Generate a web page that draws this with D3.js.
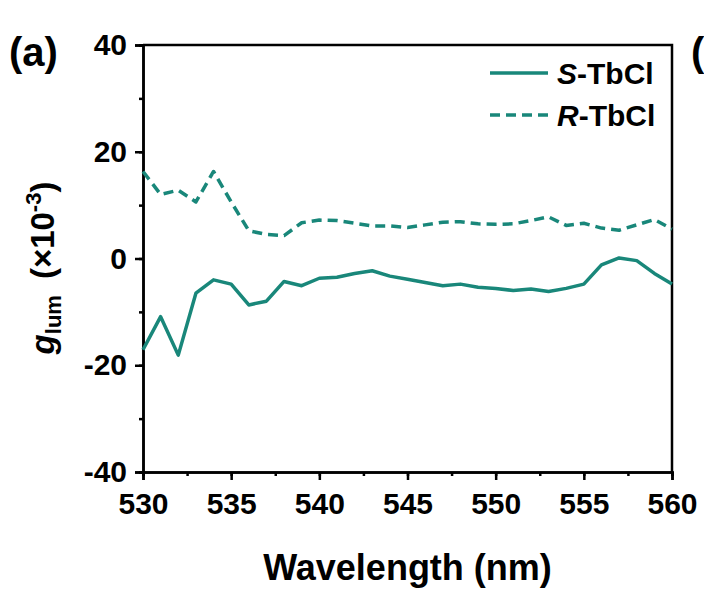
<!DOCTYPE html>
<html>
<head>
<meta charset="utf-8">
<script src="https://cdn.jsdelivr.net/npm/d3@7"></script>
<style>
  body { margin: 0; background: #fff; }
  text { font-family: "Liberation Sans", Arial, sans-serif; font-weight: bold; }
</style>
</head>
<body>
<div id="chart"></div>
<script>
// 数据
const wavelength = [530, 531, 532, 533, 534, 535, 536, 537, 538, 539, 540, 541, 542, 543, 544, 545,
  546, 547, 548, 549, 550, 551, 552, 553, 554, 555, 556, 557, 558, 559, 560];
const sTbCl = [-17.1, -10.9, -18.1, -6.5, -4.0, -4.8, -8.7, -8.0, -4.3, -5.1, -3.7, -3.5, -2.8, -2.3, -3.3, -3.9,
  -4.5, -5.1, -4.8, -5.4, -5.6, -6.0, -5.7, -6.2, -5.6, -4.8, -1.2, 0.1, -0.4, -2.8, -4.8];
const rTbCl = [16.3, 12.0, 12.8, 10.6, 16.3, 10.6, 5.2, 4.5, 4.3, 6.7, 7.2, 7.1, 6.6, 6.1, 6.1, 5.8,
  6.3, 6.8, 6.9, 6.5, 6.4, 6.5, 7.1, 7.8, 6.2, 6.6, 5.7, 5.3, 6.3, 7.3, 5.5];
const xTicks = [530, 535, 540, 545, 550, 555, 560];
const yTicks = [-40, -20, 0, 20, 40];
const seriesNames = ["S", "R"];

const width = 704, height = 597;
const margin = { left: 143, right: 32, top: 45, bottom: 125 };
const color = "#19877a";

const svg = d3.select("#chart").append("svg")
  .attr("width", width).attr("height", height);

const x = d3.scaleLinear().domain([530, 560]).range([margin.left, width - margin.right]);
const y = d3.scaleLinear().domain([-40, 40]).range([height - margin.bottom, margin.top]);

// 坐标轴
const styleAxis = (g) => {
  g.select(".domain").attr("stroke", "#000").attr("stroke-width", 2.5);
  g.selectAll(".tick line").attr("stroke", "#000").attr("stroke-width", 2.5);
  g.selectAll(".tick text").attr("fill", "#000").style("font-size", "30px");
};
const fmt = (d) => String(d); // 用普通连字符作负号

svg.append("g")
  .attr("transform", `translate(0,${y(-40)})`)
  .call(d3.axisBottom(x).tickValues(d3.range(530, 560.1, 2.5)).tickSize(4).tickFormat(""))
  .call(styleAxis);
svg.append("g")
  .attr("transform", `translate(0,${y(-40)})`)
  .call(d3.axisBottom(x).tickValues(xTicks).tickSize(8).tickPadding(13).tickFormat(fmt))
  .call(styleAxis);

svg.append("g")
  .attr("transform", `translate(${x(530)},0)`)
  .call(d3.axisLeft(y).tickValues(d3.range(-40, 40.1, 10)).tickSize(4).tickFormat(""))
  .call(styleAxis);
svg.append("g")
  .attr("transform", `translate(${x(530)},0)`)
  .call(d3.axisLeft(y).tickValues(yTicks).tickSize(8).tickPadding(8).tickFormat(fmt))
  .call(styleAxis);

// 上、右边框
svg.append("path")
  .attr("d", `M${x(530)},${y(40)}H${x(560)}V${y(-40)}`)
  .attr("fill", "none").attr("stroke", "#000").attr("stroke-width", 2.5);

// 曲线
const line = d3.line().x((d) => x(d[0])).y((d) => y(d[1]));
const series = [sTbCl, rTbCl];
series.forEach((vals, i) => {
  svg.append("path")
    .datum(wavelength.map((w, k) => [w, vals[k]]))
    .attr("d", line)
    .attr("fill", "none")
    .attr("stroke", color)
    .attr("stroke-width", 3.5)
    .attr("stroke-linejoin", "round")
    .attr("stroke-dasharray", i === 1 ? "10,6" : null);
});

// 图例
const legend = svg.append("g");
seriesNames.forEach((n, i) => {
  const ly = 73 + i * 42;
  legend.append("line")
    .attr("x1", 490).attr("x2", 548).attr("y1", ly).attr("y2", ly)
    .attr("stroke", color).attr("stroke-width", 3.5)
    .attr("stroke-dasharray", i === 1 ? "10,6" : null);
  const t = legend.append("text")
    .attr("x", 557).attr("y", ly).attr("dy", "0.36em")
    .style("font-size", "30px");
  t.append("tspan").style("font-style", "italic").text(n);
  t.append("tspan").text("-TbCl");
});

// 轴标题
svg.append("text")
  .attr("x", (x(530) + x(560)) / 2).attr("y", 580)
  .attr("text-anchor", "middle")
  .style("font-size", "36px")
  .text("Wavelength (nm)");

const yt = svg.append("text")
  .attr("transform", "translate(54,268) rotate(-90)")
  .attr("text-anchor", "middle")
  .style("font-size", "33px");
yt.append("tspan").style("font-style", "italic").text("g");
yt.append("tspan").attr("dy", 7).style("font-size", "22px").text("lum");
yt.append("tspan").attr("dy", -7).attr("dx", 16).text("(×10");
yt.append("tspan").attr("dy", -13).style("font-size", "22px").text("-3");
yt.append("tspan").attr("dy", 13).text(")");

// 面板标签
svg.append("text").attr("x", 9).attr("y", 66).style("font-size", "40px").text("(a)");
svg.append("text").attr("x", 691).attr("y", 66).style("font-size", "40px").text("(");
</script>
</body>
</html>
